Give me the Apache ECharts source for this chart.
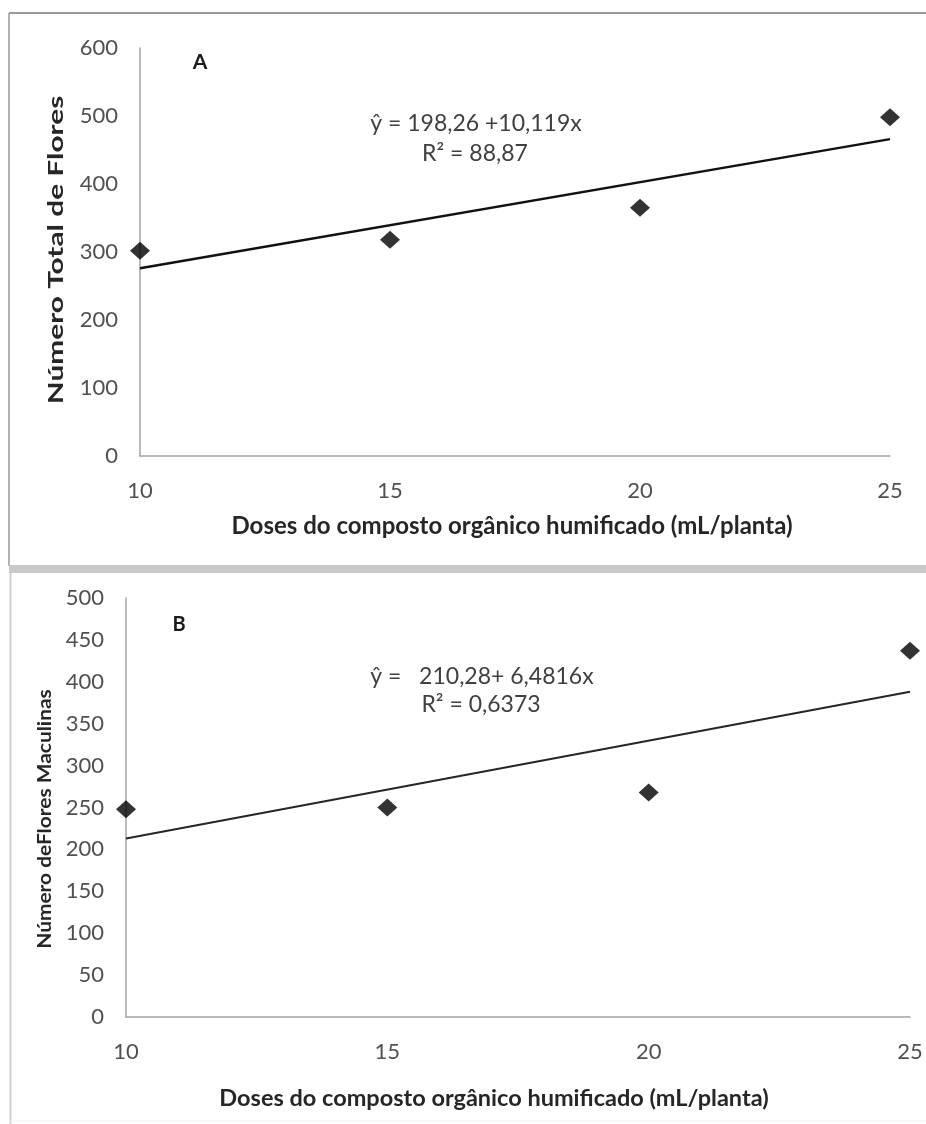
<!DOCTYPE html>
<html>
<head>
<meta charset="utf-8">
<script src="https://cdn.jsdelivr.net/npm/echarts@6/dist/echarts.min.js"></script>
<style>
html,body{margin:0;padding:0;background:#fff;}
#chart{width:926px;height:1124px;}
</style>
</head>
<body>
<div id="chart"></div>
<script>
// ---- data ----
const doses = [10, 15, 20, 25];
const totalFlores = [302, 318, 365, 498];
const floresMasculinas = [248, 250, 268, 437];
const trendDoses = [10, 25];
const trendTotal = [276, 466];
const trendMasculinas = [213, 388];
const xTitle = 'Doses do composto orgânico humificado (mL/planta)';
const yTitleA = 'Número Total de Flores';
const yTitleB = 'Número deFlores Maculinas';
const eqA = ['ŷ = 198,26 +10,119x', 'R² = 88,87'];
const eqB = ['ŷ =   210,28+ 6,4816x', 'R² = 0,6373'];

const FONT = 'Lato';
const pairs = (xs, ys) => xs.map((x, i) => [x, ys[i]]);

const axisLine = {show: true, lineStyle: {color: '#a3a3a3', width: 1.5}};
function xAxis(gridIndex, nameGap, size, shiftLeft) {
  return {
    type: 'value', gridIndex, min: 10, max: 25, interval: 5,
    name: xTitle, nameLocation: 'middle', nameGap,
    nameTextStyle: {fontFamily: FONT, fontWeight: 'bold', fontSize: size, color: '#262626',
      padding: [0, shiftLeft * 2, 0, 0]},
    axisLine, axisTick: {show: false}, splitLine: {show: false},
    axisLabel: {fontFamily: FONT, fontSize: 22, color: '#505050', margin: 24}
  };
}
function yAxis(gridIndex, max, interval) {
  return {
    type: 'value', gridIndex, min: 0, max, interval,
    axisLine, axisTick: {show: false}, splitLine: {show: false},
    axisLabel: {fontFamily: FONT, fontSize: 22, color: '#505050', margin: 22}
  };
}
function vText(text, x, y, size, stretch) {
  return {type: 'text', x, y, rotation: Math.PI / 2, scaleX: stretch, scaleY: 1,
    style: {text, font: 'bold ' + size + 'px Lato', fill: '#262626', align: 'center', verticalAlign: 'middle'}};
}
function eq(text, x, y) {
  return {type: 'text', x, y, style: {text, font: '23px Lato', fill: '#404040', align: 'center', verticalAlign: 'middle'}};
}

const chart = echarts.init(document.getElementById('chart'), null, {renderer: 'canvas'});
chart.setOption({
  backgroundColor: '#ffffff',
  animation: false,
  grid: [
    {left: 140, top: 48, width: 750, height: 408},
    {left: 126, top: 598, width: 784, height: 419}
  ],
  xAxis: [xAxis(0, 58, 24, 3), xAxis(1, 69, 23.5, 24)],
  yAxis: [yAxis(0, 600, 100), yAxis(1, 500, 50)],
  graphic: [
    // panel frames
    {type: 'line', shape: {x1: 9, y1: 13, x2: 926, y2: 13}, style: {stroke: '#9a9a9a', lineWidth: 2}},
    {type: 'line', shape: {x1: 9, y1: 13, x2: 9, y2: 566}, style: {stroke: '#9a9a9a', lineWidth: 1.5}},
    {type: 'rect', shape: {x: 9, y: 565, width: 917, height: 8}, style: {fill: '#c9c9c9'}},
    {type: 'line', shape: {x1: 10.5, y1: 573, x2: 10.5, y2: 1124}, style: {stroke: '#cfcfcf', lineWidth: 2}},
    {type: 'line', shape: {x1: 10, y1: 1121, x2: 926, y2: 1121}, style: {stroke: '#f0f0f0', lineWidth: 1}},
    // y axis titles
    vText(yTitleA, 56, 250, 21, 1.42),
    vText(yTitleB, 45, 819, 19, 1.1),
    // panel letters
    {type: 'text', x: 200, y: 62, style: {text: 'A', font: 'bold 21px Lato', fill: '#1a1a1a', align: 'center', verticalAlign: 'middle'}},
    {type: 'text', x: 179, y: 625, style: {text: 'B', font: 'bold 20px Lato', fill: '#1a1a1a', align: 'center', verticalAlign: 'middle'}},
    // equations
    eq(eqA[0], 476, 124), eq(eqA[1], 475, 154),
    eq(eqB[0], 482, 677), eq(eqB[1], 481, 705)
  ],
  series: [
    {type: 'line', xAxisIndex: 0, yAxisIndex: 0, data: pairs(trendDoses, trendTotal),
     showSymbol: false, lineStyle: {color: '#111', width: 2.5}, silent: true},
    {type: 'scatter', xAxisIndex: 0, yAxisIndex: 0, data: pairs(doses, totalFlores),
     symbol: 'diamond', symbolSize: [20, 18], itemStyle: {color: '#000'}},
    {type: 'line', xAxisIndex: 1, yAxisIndex: 1, data: pairs(trendDoses, trendMasculinas),
     showSymbol: false, lineStyle: {color: '#262626', width: 2}, silent: true},
    {type: 'scatter', xAxisIndex: 1, yAxisIndex: 1, data: pairs(doses, floresMasculinas),
     symbol: 'diamond', symbolSize: [20, 18], itemStyle: {color: '#000'}}
  ]
});
</script>
</body>
</html>
